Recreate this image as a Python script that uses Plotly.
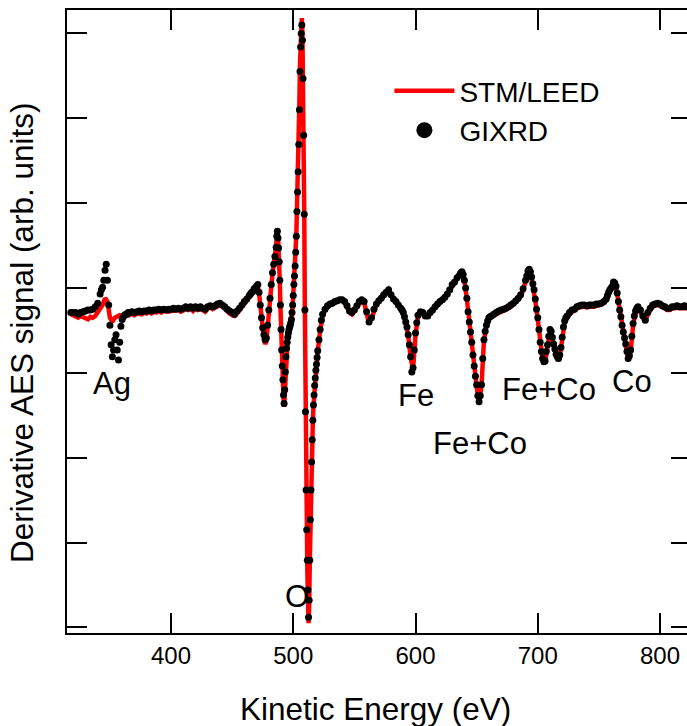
import numpy as np
import plotly.graph_objects as go

# ---------------- data (arb. units; y tick spacing = 1) ----------------
# GIXRD sampling grid (eV)
gixrd_energy = np.concatenate([
    np.arange(318, 343, 2), np.arange(343, 367, 1), np.arange(368, 465, 2),
    np.arange(465, 487, 1), np.arange(486.5, 520.01, 0.5), np.arange(521, 525, 1),
    np.arange(526, 589, 2), np.arange(589, 603, 1), np.arange(604, 637, 2),
    np.arange(637, 663, 1), np.arange(664, 691, 2), np.arange(691, 725, 1),
    np.arange(726, 757, 2), np.arange(757, 783, 1), np.arange(784, 823, 2)])

gixrd_signal = [
    # 318-342
    -0.29, -0.29, -0.29, -0.31, -0.29, -0.28, -0.27, -0.26, -0.26, -0.25, -0.22, -0.18, -0.07,
    # 343-366
    -0.02, 0.01, 0.09, 0.21, 0.28, 0.09, -0.20, -0.44, -0.67, -0.81, -0.73, -0.61,
    -0.55, -0.73, -0.85, -0.64, -0.45, -0.37, -0.34, -0.32, -0.31, -0.31, -0.29, -0.29,
    # 368-464
    -0.28, -0.29, -0.28, -0.27, -0.28, -0.27, -0.27, -0.26, -0.27, -0.26,
    -0.26, -0.25, -0.26, -0.25, -0.26, -0.25, -0.25, -0.24, -0.25, -0.24,
    -0.25, -0.24, -0.22, -0.24, -0.22, -0.24, -0.22, -0.24, -0.22, -0.24,
    -0.25, -0.22, -0.21, -0.22, -0.21, -0.19, -0.18, -0.20, -0.22, -0.25,
    -0.27, -0.29, -0.31, -0.27, -0.24, -0.20, -0.16, -0.13, -0.09,
    # 465-486
    -0.07, -0.05, -0.04, -0.01, 0.00, 0.02, 0.04, -0.05, -0.20, -0.35, -0.47,
    -0.55, -0.61, -0.59, -0.44, -0.26, -0.12, 0.04, 0.18, 0.28, 0.37, 0.48,
    # 486.5-520 (0.5 eV)
    0.61, 0.67, 0.59, 0.47, 0.31, 0.09, -0.20, -0.49, -0.73, -0.92, -1.08, -1.26,
    -1.36, -1.20, -0.99, -0.81, -0.71, -0.64, -0.58, -0.53, -0.49, -0.46, -0.44, -0.41,
    -0.37, -0.29, -0.20, -0.09, 0.04, 0.14, 0.26, 0.42, 0.61, 0.90, 1.13, 1.37,
    1.69, 2.10, 2.55, 2.84, 3.00, 3.10, 2.92, 2.47, 1.80, 0.87, -0.26, -1.46,
    -2.38, -2.85, -3.21, -3.56, -3.88, -3.68, -3.21, -2.73, -2.38, -2.05, -1.79, -1.56,
    -1.38, -1.26, -1.15, -1.06, -0.97, -0.90, -0.82, -0.74,
    # 521-524
    -0.61, -0.49, -0.38, -0.31,
    # 526-588
    -0.25, -0.21, -0.19, -0.18, -0.16, -0.15, -0.14, -0.14, -0.16, -0.21,
    -0.27, -0.29, -0.26, -0.21, -0.16, -0.14, -0.16, -0.28, -0.40, -0.35,
    -0.25, -0.19, -0.15, -0.12, -0.08, -0.05, -0.02, -0.08, -0.13, -0.16,
    -0.20, -0.24,
    # 589-602
    -0.26, -0.29, -0.34, -0.40, -0.46, -0.55, -0.67, -0.81, -0.99, -0.94, -0.73, -0.53, -0.41, -0.32,
    # 604-636
    -0.28, -0.29, -0.33, -0.33, -0.29, -0.26, -0.22, -0.19, -0.16, -0.14, -0.11,
    -0.07, -0.02, 0.04, 0.07, 0.12, 0.15,
    # 637-662
    0.18, 0.19, 0.16, 0.09, 0.00, -0.12, -0.28, -0.40, -0.52, -0.64, -0.79, -0.92, -1.04,
    -1.14, -1.27, -1.34, -1.27, -1.14, -0.83, -0.61, -0.51, -0.44, -0.39, -0.35, -0.34, -0.33,
    # 664-690
    -0.31, -0.29, -0.27, -0.26, -0.25, -0.24, -0.22, -0.20, -0.18, -0.15, -0.12, -0.08, -0.01, 0.09,
    # 691-724
    0.14, 0.20, 0.22, 0.19, 0.13, 0.05, -0.02, -0.13, -0.25, -0.35, -0.49, -0.64,
    -0.75, -0.83, -0.87, -0.86, -0.75, -0.67, -0.57, -0.49, -0.51, -0.58, -0.66, -0.72,
    -0.78, -0.81, -0.83, -0.79, -0.70, -0.58, -0.46, -0.39, -0.35, -0.33,
    # 726-756
    -0.29, -0.26, -0.25, -0.22, -0.21, -0.20, -0.20, -0.21, -0.20, -0.20, -0.20, -0.19,
    -0.19, -0.18, -0.16, -0.13,
    # 757-782
    -0.09, -0.05, -0.02, 0.00, 0.02, 0.07, 0.06, 0.02, -0.06, -0.16, -0.26, -0.34, -0.44,
    -0.52, -0.59, -0.66, -0.75, -0.83, -0.80, -0.73, -0.57, -0.42, -0.33, -0.27, -0.24, -0.22,
    # 784-822
    -0.26, -0.33, -0.38, -0.29, -0.24, -0.20, -0.19, -0.18, -0.19, -0.21,
    -0.22, -0.24, -0.24, -0.22, -0.22, -0.21, -0.22, -0.22, -0.21, -0.22,
]

# STM/LEED sampling grid (eV)
stm_energy = np.concatenate([
    np.arange(318, 465, 2), np.arange(465, 487, 1),
    np.arange(486.5, 520.01, 0.5), np.arange(522, 823, 2)])

stm_signal = [
    # 318-464
    -0.31, -0.32, -0.33, -0.35, -0.33, -0.34, -0.35, -0.37, -0.34, -0.35,
    -0.33, -0.28, -0.25, -0.20, -0.12, -0.16, -0.35, -0.40, -0.35, -0.33,
    -0.32, -0.33, -0.31, -0.32, -0.32, -0.30, -0.32, -0.30, -0.30, -0.31,
    -0.29, -0.30, -0.28, -0.30, -0.28, -0.29, -0.27, -0.29, -0.27, -0.28,
    -0.28, -0.27, -0.27, -0.27, -0.26, -0.28, -0.26, -0.25, -0.26, -0.24,
    -0.27, -0.24, -0.26, -0.25, -0.26, -0.28, -0.24, -0.23, -0.25, -0.23,
    -0.21, -0.20, -0.22, -0.25, -0.27, -0.30, -0.32, -0.33, -0.30, -0.26,
    -0.22, -0.18, -0.15, -0.11,
    # 465-486
    -0.09, -0.07, -0.06, -0.03, -0.02, 0.00, 0.02, -0.06, -0.22, -0.38, -0.51,
    -0.60, -0.66, -0.63, -0.47, -0.28, -0.13, 0.03, 0.17, 0.28, 0.37, 0.49,
    # 486.5-520 (0.5 eV)
    0.63, 0.70, 0.62, 0.48, 0.31, 0.08, -0.22, -0.52, -0.76, -0.95, -1.12, -1.30,
    -1.40, -1.24, -1.02, -0.84, -0.73, -0.66, -0.60, -0.55, -0.51, -0.47, -0.45, -0.42,
    -0.38, -0.30, -0.21, -0.10, 0.03, 0.13, 0.25, 0.42, 0.62, 0.92, 1.16, 1.42,
    1.76, 2.20, 2.65, 2.95, 3.12, 3.18, 3.00, 2.52, 1.82, 0.85, -0.30, -1.52,
    -2.45, -2.95, -3.32, -3.66, -3.95, -3.76, -3.25, -2.76, -2.40, -2.07, -1.80, -1.57,
    -1.39, -1.27, -1.16, -1.07, -0.98, -0.91, -0.83, -0.75,
    # 522-822
    -0.50, -0.33, -0.26, -0.23, -0.20, -0.19, -0.17, -0.16, -0.15, -0.15,
    -0.17, -0.22, -0.29, -0.31, -0.27, -0.22, -0.17, -0.15, -0.17, -0.29,
    -0.42, -0.36, -0.26, -0.20, -0.16, -0.13, -0.09, -0.06, -0.02, -0.09,
    -0.14, -0.17, -0.21, -0.25, -0.30, -0.41, -0.56, -0.82, -0.96, -0.55,
    -0.34, -0.30, -0.31, -0.34, -0.34, -0.30, -0.27, -0.24, -0.20, -0.18,
    -0.15, -0.12, -0.08, -0.03, 0.03, 0.06, 0.11, 0.14, 0.19, 0.09,
    -0.13, -0.41, -0.65, -0.93, -1.16, -1.36, -1.15, -0.62, -0.45, -0.36,
    -0.35, -0.33, -0.31, -0.29, -0.28, -0.27, -0.26, -0.24, -0.22, -0.20,
    -0.17, -0.14, -0.10, -0.03, 0.08, 0.20, 0.18, 0.04, -0.15, -0.37,
    -0.66, -0.85, -0.88, -0.69, -0.51, -0.60, -0.74, -0.83, -0.81, -0.60,
    -0.41, -0.35, -0.31, -0.28, -0.27, -0.24, -0.23, -0.22, -0.22, -0.23,
    -0.22, -0.22, -0.22, -0.21, -0.21, -0.20, -0.18, -0.15, -0.07, -0.01,
    0.07, 0.01, -0.18, -0.36, -0.54, -0.68, -0.85, -0.75, -0.44, -0.29,
    -0.24, -0.28, -0.35, -0.40, -0.31, -0.26, -0.22, -0.21, -0.20, -0.21,
    -0.23, -0.24, -0.26, -0.26, -0.24, -0.24, -0.23, -0.24, -0.24, -0.23,
    -0.24,
]

assert len(gixrd_energy) == len(gixrd_signal), (len(gixrd_energy), len(gixrd_signal))
assert len(stm_energy) == len(stm_signal), (len(stm_energy), len(stm_signal))

peak_labels = ["Ag", "O", "Fe", "Fe+Co", "Fe+Co", "Co"]
peak_label_x = [352.1, 502.7, 600.4, 652.8, 709.6, 777.1]
peak_label_y = [-1.12, -3.64, -1.27, -1.83, -1.20, -1.10]

x_ticks = [400, 500, 600, 700, 800]
y_ticks = [-4, -3, -2, -1, 0, 1, 2, 3]
x_range = [314.9, 822.1]
y_range = [-4.066, 3.276]

FONT = "Liberation Sans, Arial, sans-serif"

# ---------------- figure ----------------
fig = go.Figure()
fig.add_trace(go.Scatter(x=stm_energy, y=stm_signal, mode="lines", name="STM/LEED",
                         line=dict(color="rgb(255,0,0)", width=4.5)))
fig.add_trace(go.Scatter(x=gixrd_energy, y=gixrd_signal, mode="markers", name="GIXRD",
                         marker=dict(color="black", size=7), showlegend=False))
# legend entry for GIXRD (larger symbol, no data)
fig.add_trace(go.Scatter(x=[None], y=[None], mode="markers", name="GIXRD",
                         marker=dict(color="black", size=22)))
# invisible trace to carry the right-hand mirror ticks
fig.add_trace(go.Scatter(x=[None], y=[None], yaxis="y2", showlegend=False, hoverinfo="skip"))

for txt, lx, ly in zip(peak_labels, peak_label_x, peak_label_y):
    fig.add_annotation(x=lx, y=ly, text=txt, showarrow=False, xanchor="center", yanchor="middle",
                       font=dict(family=FONT, size=31, color="black"))

fig.add_annotation(xref="paper", yref="paper", x=0.497, y=-0.122, text="Kinetic Energy (eV)",
                   showarrow=False, xanchor="center", yanchor="middle",
                   font=dict(family=FONT, size=31.5, color="black"))
fig.add_annotation(xref="paper", yref="paper", x=-0.0726, y=0.4815,
                   text="Derivative AES signal (arb. units)", textangle=-90,
                   showarrow=False, xanchor="center", yanchor="middle",
                   font=dict(family=FONT, size=31.5, color="black"))

fig.update_layout(
    width=687, height=726,
    margin=dict(l=67, r=0, t=10, b=93),
    paper_bgcolor="white", plot_bgcolor="white",
    font=dict(family=FONT, color="black"),
    showlegend=True,
    legend=dict(x=0.52, y=0.91, xanchor="left", yanchor="top",
                font=dict(family=FONT, size=28, color="black"),
                bgcolor="rgba(0,0,0,0)", itemwidth=60, tracegroupgap=0),
    xaxis=dict(range=x_range, tickvals=x_ticks, ticks="inside", ticklen=20, tickwidth=2,
               tickcolor="black", showline=True, linewidth=2, linecolor="black",
               mirror="ticks", showgrid=False, zeroline=False,
               tickfont=dict(family=FONT, size=24, color="black")),
    yaxis=dict(range=y_range, tickvals=y_ticks, ticks="inside", ticklen=20, tickwidth=2,
               tickcolor="black", showline=True, linewidth=2, linecolor="black",
               mirror=False, showgrid=False, zeroline=False, showticklabels=False),
    yaxis2=dict(range=y_range, tickvals=y_ticks, overlaying="y", side="right",
                ticks="inside", ticklen=16, tickwidth=2, tickcolor="black",
                showline=False, showgrid=False, zeroline=False, showticklabels=False),
)

fig.write_html("out.html")
